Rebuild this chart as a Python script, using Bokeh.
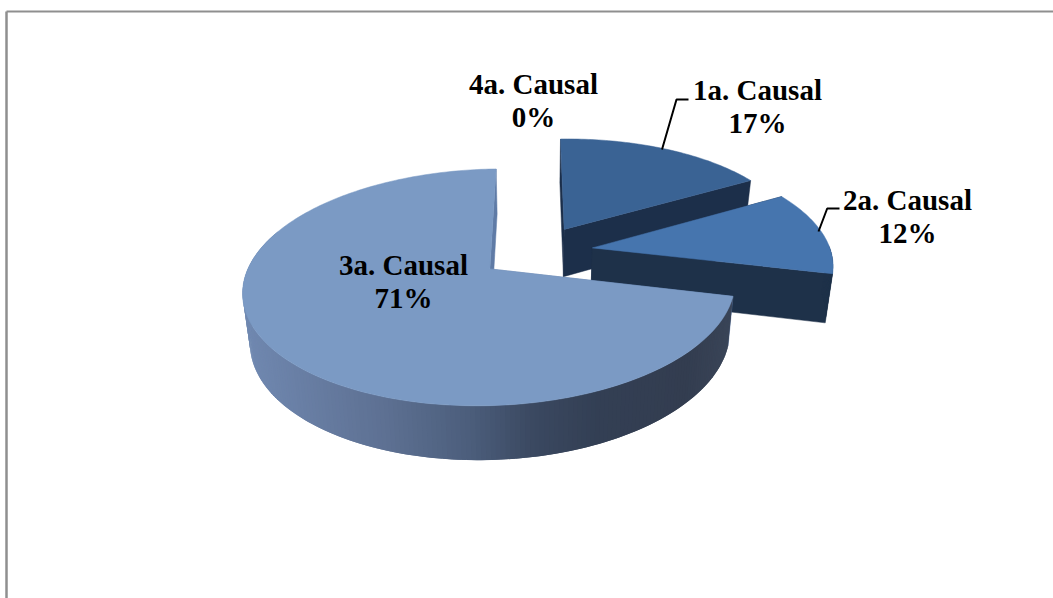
import numpy as np
from bokeh.plotting import figure
from bokeh.core.properties import value
from bokeh.embed import file_html
from bokeh.resources import INLINE

# --- data
categories = ["1a. Causal", "2a. Causal", "3a. Causal", "4a. Causal"]
shares = [17, 12, 71, 0]

# --- styles / layout
top_colors = {"1a. Causal": "#3a6394", "2a. Causal": "#4675ae", "3a. Causal": "#7b9ac4"}
side_colors = {"1a. Causal": "#1c2f4a", "2a. Causal": "#1e3149", "3a. Causal": "#5f7ba6"}
label_pos = {"1a. Causal": (757, 90), "2a. Causal": (907, 199.5),
             "3a. Causal": (403, 265), "4a. Causal": (533, 84)}
LINE_H = 33
FONT = "Liberation Serif"
# projection of the pie's disc onto the page
CX, CY, A, B, K = 535.5, 251.3, 237.6, 110.4, 0.1526
TILT = 2.5
EXPLODE = 0.24
SX2, SY2, CY2 = 0.975, 1.04, 299.5      # lower face of the disc
grad_x = [245, 387, 470, 537, 600, 690, 735]
grad_r = [0x70, 0x5d, 0x4c, 0x3a, 0x33, 0x33, 0x3a]
grad_g = [0x88, 0x70, 0x5e, 0x48, 0x3f, 0x3d, 0x45]
grad_b = [0xb0, 0x92, 0x7c, 0x60, 0x54, 0x50, 0x58]


def project(u, v, lower=False):
    d = 1 - K * v
    x = A * u / d
    y = B * v / d - TILT * u
    if lower:
        return CX + SX2 * x, CY2 + SY2 * y
    return CX + x, CY + y


def grad_color(x):
    r = int(round(np.interp(x, grad_x, grad_r)))
    g = int(round(np.interp(x, grad_x, grad_g)))
    b = int(round(np.interp(x, grad_x, grad_b)))
    return f"#{r:02x}{g:02x}{b:02x}"


p = figure(width=1053, height=598, x_range=(0, 1053), y_range=(598, 0),
           output_backend="svg", toolbar_location=None, min_border=0,
           background_fill_color="white", border_fill_color="white")
p.xaxis.visible = False
p.yaxis.visible = False
p.grid.visible = False
p.outline_line_color = None

# frame of the page (top and left only)
p.line([6, 6], [598, 11], line_color="#8f8f8f", line_width=2.5)
p.line([6, 1053], [11, 11], line_color="#8f8f8f", line_width=2)

# --- pie
start = 0.0
for cat, share in zip(categories, shares):
    sweep = share * 3.6
    if sweep == 0:
        start += sweep
        continue
    end = start + sweep
    mid = np.radians((start + end) / 2)
    u0, v0 = EXPLODE * np.sin(mid), -EXPLODE * np.cos(mid)
    th = np.radians(np.linspace(start, end, max(int(sweep) + 2, 3)))
    us, vs = u0 + np.sin(th), v0 - np.cos(th)
    side = side_colors[cat]

    # radial faces
    xs, ys, cols = [], [], []
    for a in (th[0], th[-1]):
        ue, ve = u0 + np.sin(a), v0 - np.cos(a)
        x1, y1 = project(u0, v0)
        x2, y2 = project(ue, ve)
        x3, y3 = project(ue, ve, True)
        x4, y4 = project(u0, v0, True)
        xs.append([x1, x2, x3, x4])
        ys.append([y1, y2, y3, y4])
        cols.append(side)
    p.patches(xs, ys, fill_color=cols, line_color=cols, line_width=0.5)

    # outer wall: painted strip over strip, each reaching under the next
    xs, ys, cols = [], [], []
    for i in range(len(th) - 1):
        deg = np.degrees(th[i])
        if deg < 89 or deg > 290:
            continue
        j = min(i + 2, len(th) - 1)
        x1, y1 = project(us[i], vs[i])
        x2, y2 = project(us[j], vs[j])
        x3, y3 = project(us[j], vs[j], True)
        x4, y4 = project(us[i], vs[i], True)
        xs.append([x1, x2, x3, x4])
        ys.append([y1, y2, y3, y4])
        cols.append(grad_color(x1) if share > 50 else side)
    if xs:
        p.patches(xs, ys, fill_color=cols, line_color=None)

    # top face
    x_arc, y_arc = project(us, vs)
    xa, ya = project(u0, v0)
    p.patch(np.r_[xa, x_arc], np.r_[ya, y_arc], fill_color=top_colors[cat],
            line_color=top_colors[cat], line_width=0.5)
    start = end

# --- leader lines
p.line([661.5, 676, 688], [149, 99, 99], line_color="black", line_width=2)
p.line([818, 826.7, 839], [231, 208, 208], line_color="black", line_width=2)

# --- labels
for cat, share in zip(categories, shares):
    lx, ly = label_pos[cat]
    for row, txt in enumerate([cat, f"{share}%"]):
        p.text([lx], [ly + row * LINE_H - LINE_H / 2 + 16], text=[txt],
               text_font=value(FONT), text_font_style="bold",
               text_font_size="29px", text_color="black",
               text_align="center", text_baseline="alphabetic")

open("out.html", "w").write(file_html(p, INLINE))
